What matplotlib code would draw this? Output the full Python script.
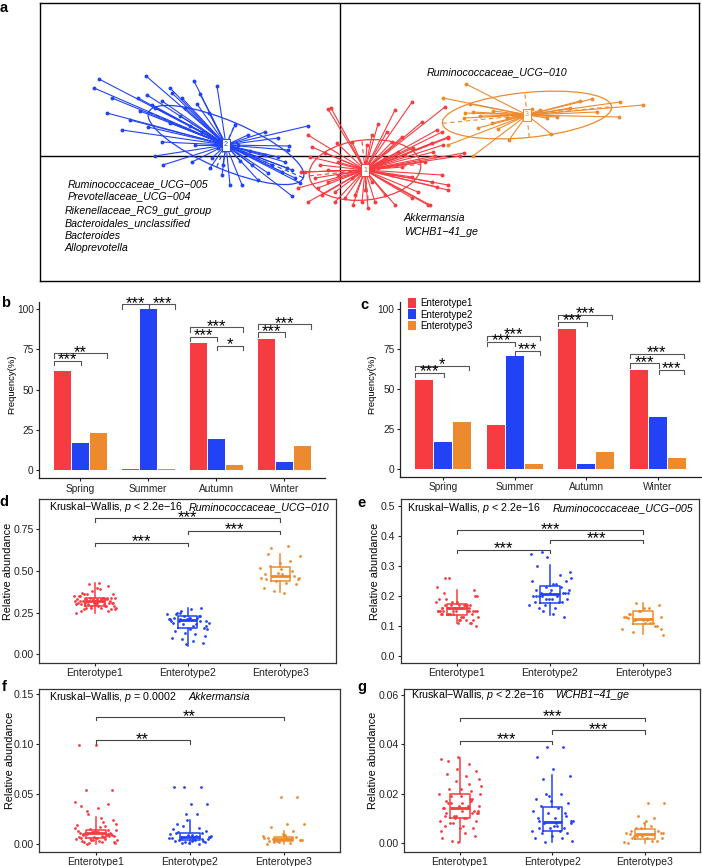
import matplotlib
matplotlib.use("Agg")
import matplotlib.pyplot as plt
import numpy as np
from matplotlib.patches import Ellipse

plt.rcParams['font.family'] = ['Liberation Sans', 'DejaVu Sans']
plt.rcParams['mathtext.fontset'] = 'custom'
plt.rcParams['mathtext.rm'] = 'Liberation Sans'
plt.rcParams['mathtext.it'] = 'Liberation Sans:italic'

RED, BLUE, ORANGE = '#F63C40', '#2243F5', '#EE8A2E'
COLS = [RED, BLUE, ORANGE]
enterotypes = ['Enterotype1', 'Enterotype2', 'Enterotype3']
seasons = ['Spring', 'Summer', 'Autumn', 'Winter']

## ------------------------------ panel a : class ordination -----------------------------------
et1_x = [-12, 72, 55, 38, -32, -3, -28, 82, 102, 108, 92, 120, 95, 73, 85, 62, 72, 92, 108, 88,
         72, 55, 45, 35, 25, 15, 5, -5, -22, -42, -32, -12, -35, -25, -20, -2, -30, -15, 12, 27,
         32, 47, 52, 62, 58, 45, 12, 22, 32, 52, 38, -12, -2, 13, 28, -5, -18, 78, 97, 102,
         65, 25, -39, -9, 90, 108, 124, 105, 97, 108, 103, 93]
et1_y = [47, 54, 46, 32, 21, 13, 9, 34, 24, 18, 13, 0, 0, 8, -6, -11, -21, -26, -34, -49,
         -42, -49, -39, -46, -34, -39, -42, -36, -32, -32, -46, -26, -16, -22, -9, -6, -1, 3, 14, 11,
         21, 24, 14, 19, 4, -2, -22, -46, -26, -19, -12, -14, -19, -49, -52, -46, -39, -36, -31, -19,
         1, -6, -16, 48, -49, -29, 3, 49, 26, 19, 11, 4]
et2_x = [-241, -194, -246, -146, -123, -170, -202, -228, -193, -168, -158, -188, -233, -178, -131,
         -143, -218, -192, -178, -145, -105, -92, -75, -32, -62, -51, -52, -185, -177, -148, -128,
         -118, -110, -98, -82, -72, -48, -55, -53, -45, -40, -62, -68, -88, -122, -75, -102, -138,
         -155, -117, -48, -58, -160, -200, -140, -210, -170, -185, -150, -100, -90, -130]
et2_y = [77, 80, 68, 75, 70, 68, 58, 58, 61, 63, 58, 51, 43, 55, 43, 52, 26, 29, 14, 11, 31, 21,
         24, 30, 18, 10, 6, 0, -9, -6, -2, -19, -29, -29, -24, -17, -40, -6, -12, -22, -27, -1, -9,
         -9, 8, 1, 11, 24, 48, -9, -14, -16, 40, 45, 62, 36, 33, 48, 30, -5, 5, -12]
et3_x = [126, 103, 130, 125, 124, 138, 152, 158, 108, 133, 169, 211, 192, 207, 280, 303, 279, 252,
         240, 230, 217, 257, 133, 140, 167, 182, 153, 200]
et3_y = [72, 58, 52, 43, 38, 28, 33, 27, 11, 0, 16, 22, 47, 38, 54, 51, 39, 57, 55, 48, 39, 44,
         44, 40, 38, 39, 45, 46]
centroid_x = [25, -114, 187]
centroid_y = [-14, 11, 41]
ell_major = [56, 84, 85]
ell_minor = [30, 24, 22.5]
ell_angle = [6, -23, 5.6]

taxa_et2 = ['Ruminococcaceae_UCG\u2212005', 'Prevotellaceae_UCG\u2212004',
            'Rikenellaceae_RC9_gut_group', 'Bacteroidales_unclassified', 'Bacteroides',
            'Alloprevotella']
taxa_et1 = ['Akkermansia', 'WCHB1\u221241_ge']
taxa_et3 = ['Ruminococcaceae_UCG\u2212010']

## ------------------------------ panels b, c : seasonal frequency -----------------------------------
b_et1 = [61.5, 0.8, 78.7, 81.4]
b_et2 = [16.6, 100.0, 19.3, 4.8]
b_et3 = [23.0, 0.8, 3.3, 15.1]
c_et1 = [55.3, 27.4, 87.3, 62.0]
c_et2 = [16.6, 70.7, 3.3, 32.4]
c_et3 = [29.5, 3.3, 10.8, 6.9]
# (season, group i, group j, label)
b_sig = [(0, 1, 2, '***'), (0, 1, 3, '**'), (1, 1, 2, '***'), (1, 2, 3, '***'), (2, 1, 2, '***'),
         (2, 1, 3, '***'), (2, 2, 3, '*'), (3, 1, 2, '***'), (3, 1, 3, '***')]
b_sig_y = [67.9, 72.5, 102.9, 102.9, 82.8, 88.6, 77.2, 85.5, 90.5]
c_sig = [(0, 1, 2, '***'), (0, 1, 3, '*'), (1, 1, 2, '***'), (1, 1, 3, '***'), (1, 2, 3, '***'),
         (2, 1, 2, '***'), (2, 1, 3, '***'), (3, 1, 2, '***'), (3, 1, 3, '***'), (3, 2, 3, '***')]
c_sig_y = [59.9, 64.4, 79.4, 83.2, 74.0, 91.9, 96.5, 66.1, 71.9, 62.0]

## ------------------------------ panels d-g : relative abundance -----------------------------------
d_et1 = [0.32, 0.31, 0.33, 0.30, 0.34, 0.29, 0.35, 0.28, 0.36, 0.27, 0.32, 0.31, 0.33, 0.30, 0.34,
         0.29, 0.37, 0.26, 0.38, 0.25, 0.32, 0.33, 0.31, 0.30, 0.35, 0.29, 0.34, 0.28, 0.39, 0.27,
         0.32, 0.31, 0.33, 0.30, 0.36, 0.29, 0.40, 0.26, 0.41, 0.28, 0.32, 0.33, 0.31, 0.34, 0.30,
         0.35, 0.29, 0.42, 0.27, 0.43, 0.32, 0.31, 0.33, 0.30, 0.34, 0.28, 0.36, 0.31, 0.32, 0.33]
d_et2 = [0.21, 0.20, 0.22, 0.19, 0.23, 0.18, 0.24, 0.17, 0.25, 0.16, 0.21, 0.20, 0.22, 0.26, 0.15,
         0.27, 0.14, 0.28, 0.13, 0.21, 0.12, 0.20, 0.11, 0.22, 0.10, 0.23, 0.09, 0.19, 0.08, 0.24,
         0.07, 0.06, 0.21, 0.18, 0.25, 0.17, 0.15, 0.22, 0.20, 0.23]
d_et3 = [0.47, 0.46, 0.48, 0.45, 0.50, 0.44, 0.52, 0.43, 0.53, 0.42, 0.55, 0.40, 0.56, 0.38, 0.59,
         0.37, 0.60, 0.47, 0.49, 0.46, 0.65, 0.64, 0.45, 0.51, 0.48]
e_et1 = [0.16, 0.15, 0.17, 0.14, 0.16, 0.15, 0.18, 0.13, 0.19, 0.12, 0.16, 0.15, 0.17, 0.14, 0.20,
         0.12, 0.21, 0.11, 0.16, 0.15, 0.17, 0.14, 0.22, 0.11, 0.16, 0.15, 0.18, 0.13, 0.16, 0.17,
         0.14, 0.15, 0.19, 0.12, 0.26, 0.10, 0.16, 0.15, 0.17, 0.14, 0.23, 0.13, 0.16, 0.15, 0.18,
         0.14, 0.16, 0.17, 0.15, 0.13, 0.26, 0.11, 0.16, 0.15, 0.17, 0.14, 0.20, 0.12, 0.16, 0.15]
e_et2 = [0.20, 0.21, 0.19, 0.22, 0.18, 0.23, 0.17, 0.24, 0.16, 0.25, 0.21, 0.20, 0.27, 0.15, 0.28,
         0.14, 0.30, 0.13, 0.33, 0.34, 0.20, 0.21, 0.19, 0.22, 0.18, 0.23, 0.17, 0.26, 0.16, 0.20,
         0.21, 0.19, 0.25, 0.18, 0.345, 0.22, 0.24, 0.20, 0.21, 0.19]
e_et3 = [0.12, 0.13, 0.11, 0.14, 0.10, 0.15, 0.09, 0.16, 0.08, 0.17, 0.12, 0.13, 0.11, 0.175, 0.07,
         0.12, 0.14, 0.10, 0.15, 0.13, 0.11, 0.12, 0.09, 0.16, 0.125]
f_et1 = [0.010, 0.008, 0.012, 0.006, 0.014, 0.004, 0.016, 0.002, 0.011, 0.009, 0.013, 0.007, 0.018,
         0.001, 0.020, 0.003, 0.010, 0.008, 0.012, 0.005, 0.022, 0.000, 0.024, 0.006, 0.011, 0.009,
         0.015, 0.004, 0.026, 0.002, 0.010, 0.007, 0.013, 0.005, 0.030, 0.001, 0.036, 0.003, 0.040,
         0.012, 0.042, 0.008, 0.054, 0.054, 0.099, 0.099, 0.010, 0.006, 0.014, 0.017, 0.009, 0.011,
         0.004, 0.019, 0.007, 0.033, 0.002, 0.012, 0.038, 0.010]
f_et2 = [0.007, 0.005, 0.009, 0.003, 0.011, 0.002, 0.006, 0.008, 0.004, 0.013, 0.001, 0.015, 0.000,
         0.018, 0.007, 0.005, 0.020, 0.003, 0.024, 0.010, 0.030, 0.006, 0.040, 0.040, 0.057, 0.057,
         0.057, 0.008, 0.004, 0.012, 0.002, 0.009, 0.006, 0.016, 0.001, 0.007, 0.003, 0.011, 0.005,
         0.030]
f_et3 = [0.005, 0.004, 0.006, 0.003, 0.007, 0.002, 0.008, 0.001, 0.005, 0.004, 0.010, 0.000, 0.013,
         0.003, 0.020, 0.020, 0.017, 0.047, 0.047, 0.006, 0.005, 0.002, 0.004, 0.009, 0.006]
g_et1 = [0.014, 0.013, 0.016, 0.012, 0.018, 0.011, 0.020, 0.010, 0.022, 0.009, 0.015, 0.014, 0.024,
         0.008, 0.026, 0.007, 0.028, 0.006, 0.030, 0.005, 0.014, 0.016, 0.012, 0.019, 0.011, 0.021,
         0.010, 0.023, 0.004, 0.033, 0.003, 0.035, 0.002, 0.032, 0.001, 0.015, 0.013, 0.017, 0.012,
         0.025, 0.009, 0.027, 0.008, 0.029, 0.006, 0.014, 0.018, 0.011, 0.020, 0.010, 0.016, 0.013,
         0.0005, 0.034, 0.015, 0.019, 0.012, 0.022, 0.007, 0.017]
g_et2 = [0.008, 0.009, 0.007, 0.010, 0.006, 0.012, 0.005, 0.014, 0.004, 0.016, 0.003, 0.018, 0.002,
         0.020, 0.001, 0.008, 0.009, 0.011, 0.006, 0.013, 0.005, 0.026, 0.027, 0.030, 0.035, 0.039,
         0.039, 0.009, 0.007, 0.015, 0.004, 0.017, 0.002, 0.020, 0.0005, 0.008, 0.010, 0.006, 0.012,
         0.019]
g_et3 = [0.003, 0.004, 0.002, 0.005, 0.001, 0.006, 0.0005, 0.007, 0.003, 0.004, 0.008, 0.000, 0.010,
         0.011, 0.016, 0.016, 0.002, 0.005, 0.003, 0.004, 0.001, 0.006, 0.002, 0.009, 0.0035]

# box statistics (q1, median, q3, lower whisker, upper whisker) per enterotype
d_q1, d_med, d_q3 = [0.29, 0.156, 0.442], [0.32, 0.206, 0.472], [0.336, 0.23, 0.522]
d_lo, d_hi = [0.25, 0.05, 0.372], [0.426, 0.28, 0.60]
e_q1, e_med, e_q3 = [0.136, 0.177, 0.105], [0.158, 0.205, 0.122], [0.173, 0.233, 0.149]
e_lo, e_hi = [0.11, 0.136, 0.072], [0.22, 0.303, 0.177]
f_q1, f_med, f_q3 = [0.006, 0.0037, 0.0027], [0.0104, 0.007, 0.0047], [0.0137, 0.0104, 0.007]
f_lo, f_hi = [0.0, 0.0, 0.0], [0.027, 0.024, 0.013]
g_q1, g_med, g_q3 = [0.010, 0.005, 0.0015], [0.0143, 0.0085, 0.0035], [0.020, 0.0147, 0.0055]
g_lo, g_hi = [0.0005, 0.0005, 0.0], [0.0345, 0.0274, 0.0082]

d_sig = [(1, 3, '***'), (2, 3, '***'), (1, 2, '***')]
d_sig_y = [0.816, 0.742, 0.670]
e_sig = [(1, 3, '***'), (2, 3, '***'), (1, 2, '***')]
e_sig_y = [0.418, 0.386, 0.353]
f_sig = [(1, 3, '**'), (1, 2, '**')]
f_sig_y = [0.127, 0.1038]
g_sig = [(1, 3, '***'), (2, 3, '***'), (1, 2, '***')]
g_sig_y = [0.0506, 0.0456, 0.0413]

W, H = 702, 866
fig = plt.figure(figsize=(W / 100, H / 100), dpi=100)


def px_axes(x0, y0, x1, y1):
    ''' add axes from pixel box (left, top, right, bottom) '''
    return fig.add_axes([x0 / W, 1 - y1 / H, (x1 - x0) / W, (y1 - y0) / H])


def bracket(ax, x1, x2, y, drop, label, color='#444444'):
    ax.plot([x1, x1, x2, x2], [y - drop, y, y, y - drop], color=color, lw=0.8, clip_on=False)
    ax.annotate(label, xy=((x1 + x2) / 2, y), xytext=(0, -2.5), textcoords='offset points',
                ha='center', va='baseline', fontsize=12, annotation_clip=False)


## ---- a
ax = px_axes(39.6, 3.3, 699, 280.7)
ax.set_xlim(-300.4, 359)
ax.set_ylim(-124.7, 152.7)
ax.set_xticks([])
ax.set_yticks([])
for s in ax.spines.values():
    s.set_linewidth(1.0)
ax.axhline(0, color='black', lw=1.0, zorder=1)
ax.axvline(0, color='black', lw=1.0, zorder=1)
groups = [(et2_x, et2_y, 1), (et3_x, et3_y, 2), (et1_x, et1_y, 0)]
for gx, gy, k in groups:
    cx, cy = centroid_x[k], centroid_y[k]
    col = COLS[k]
    for px, py in zip(gx, gy):
        ax.plot([cx, px], [cy, py], color=col, lw=0.8, zorder=2)
    ax.plot(gx, gy, 'o', color=col, ms=2.8, mew=0, zorder=3)
    ax.add_patch(Ellipse((cx, cy), 2 * ell_major[k], 2 * ell_minor[k], angle=ell_angle[k],
                         fill=False, ec=col, lw=0.9, zorder=3))
    th = np.deg2rad(ell_angle[k])
    ua = np.array([np.cos(th), np.sin(th)]) * ell_major[k]
    ub = np.array([-np.sin(th), np.cos(th)]) * ell_minor[k]
    for u in (ua, ub):
        ax.plot([cx - u[0], cx + u[0]], [cy - u[1], cy + u[1]], color=col, lw=0.8, ls=(0, (4, 3)),
                zorder=3)
    ax.text(cx, cy, str(k + 1), fontsize=5, color=col, ha='center', va='center', zorder=5,
            bbox=dict(boxstyle='square,pad=0.3', fc='white', ec=col, lw=0.7))

ax.text(87, 84, taxa_et3[0], fontsize=7.7, style='italic', va='center')
ax.text(-272, -28.5, taxa_et2[0], fontsize=7.7, style='italic', va='center')
ax.text(-272, -40.5, taxa_et2[1], fontsize=7.7, style='italic', va='center')
for i, t in enumerate(taxa_et2[2:]):
    ax.text(-275.5, -54.7 - 12.5 * i, t, fontsize=7.7, style='italic', va='center')
for i, t in enumerate(taxa_et1):
    ax.text(64, -61.7 - 14.6 * i, t, fontsize=7.7, style='italic', va='center')


## ---- b, c
def freq_panel(ax, vals, sig, sig_y, end_off, legend=False):
    x = np.arange(1, 5)
    for k, v in enumerate(vals):
        ax.bar(x + (k - 1) * 0.265, v, width=0.25, color=COLS[k], label=enterotypes[k], zorder=2)
    ax.set_xlim(0.4, 4.6)
    ax.set_ylim(-4.9, 104.6)
    ax.set_yticks([0, 25, 50, 75, 100])
    ax.set_xticks(x)
    ax.set_xticklabels(seasons)
    for s in ['top', 'right']:
        ax.spines[s].set_visible(False)
    for s in ['left', 'bottom']:
        ax.spines[s].set_linewidth(0.9)
        ax.spines[s].set_color('#222222')
    ax.tick_params(length=2.5, width=0.8, labelsize=7.3, pad=1.5, colors='#222222')
    ax.set_ylabel('Frequency(%)', fontsize=6.8)
    ends = {1: -0.39, 2: 0.01, 3: end_off}
    for (si, i, j, lab), yy in zip(sig, sig_y):
        bracket(ax, si + 1 + ends[i], si + 1 + ends[j], yy, 2.7, lab, color='#555555')
    if legend:
        ax.legend(loc='upper left', bbox_to_anchor=(0.025, 1.02), frameon=False, fontsize=7,
                  handlelength=0.85, handleheight=1.15, labelspacing=0.12, handletextpad=0.5,
                  borderpad=0, borderaxespad=0)


axb = px_axes(39.3, 301.7, 325, 478)
freq_panel(axb, [b_et1, b_et2, b_et3], b_sig, b_sig_y, 0.40)
axb.yaxis.set_label_coords(-0.08, 0.53)
axc = px_axes(400, 301.7, 701, 476.7)
freq_panel(axc, [c_et1, c_et2, c_et3], c_sig, c_sig_y, 0.36, legend=True)
axc.yaxis.set_label_coords(-0.078, 0.53)


## ---- d-g
def abundance_panel(ax, groups, q1, med, q3, lo, hi, ylim, yticks, ylabels, sig, sig_y, drop,
                    species, title_x, species_x, title_y, kw_p):
    stats = []
    for k in range(3):
        stats.append(dict(med=med[k], q1=q1[k], q3=q3[k], whislo=lo[k], whishi=hi[k], fliers=[]))
    for k, vals in enumerate(groups):
        n = len(vals)
        offs = ((np.arange(n) * 0.6180339887 + 0.31) % 1 - 0.5) * 0.46
        ax.scatter(k + 1 + offs, vals, s=4, color=COLS[k], linewidths=0, zorder=2)
        ax.bxp([stats[k]], positions=[k + 1], widths=0.21, showcaps=False, showfliers=False,
               boxprops=dict(color=COLS[k], lw=1.1), whiskerprops=dict(color=COLS[k], lw=1.1),
               medianprops=dict(color=COLS[k], lw=2.0), manage_ticks=False, zorder=3)
    ax.set_xlim(0.4, 3.6)
    ax.set_ylim(*ylim)
    ax.set_xticks([1, 2, 3])
    ax.set_xticklabels(enterotypes)
    ax.set_yticks(yticks)
    ax.set_yticklabels(ylabels)
    for s in ax.spines.values():
        s.set_linewidth(0.9)
        s.set_color('#333333')
    ax.tick_params(length=2.5, width=0.8, labelsize=7.6, pad=1.5, colors='#222222')
    ax.set_ylabel('Relative abundance', fontsize=7.8)
    for (i, j, lab), yy in zip(sig, sig_y):
        bracket(ax, i, j, yy, drop, lab)
    ax.text(title_x, title_y, 'Kruskal\u2212Wallis, $\\mathit{p}$ ' + kw_p, transform=ax.transAxes,
            fontsize=7.7, va='center')
    ax.text(species_x, title_y, species, transform=ax.transAxes, fontsize=7.7, va='center',
            style='italic')


axd = px_axes(39.3, 499.3, 336, 662.7)
abundance_panel(axd, [d_et1, d_et2, d_et3], d_q1, d_med, d_q3, d_lo, d_hi, (-0.05, 0.93),
                [0, 0.25, 0.5, 0.75], ['0.00', '0.25', '0.50', '0.75'], d_sig, d_sig_y, 0.02,
                'Ruminococcaceae_UCG\u2212010', 0.034, 0.505, 0.953, '< 2.2e\u221216')
axd.yaxis.set_label_coords(-0.090, 0.56)
axe = px_axes(401, 499.3, 699, 662.7)
abundance_panel(axe, [e_et1, e_et2, e_et3], e_q1, e_med, e_q3, e_lo, e_hi, (-0.0234, 0.522),
                [0, 0.1, 0.2, 0.3, 0.4, 0.5], ['0.0', '0.1', '0.2', '0.3', '0.4', '0.5'],
                e_sig, e_sig_y, 0.011, 'Ruminococcaceae_UCG\u2212005', 0.02, 0.509, 0.947,
                '< 2.2e\u221216')
axe.yaxis.set_label_coords(-0.07, 0.56)
axf = px_axes(39.3, 689.3, 340, 851.7)
abundance_panel(axf, [f_et1, f_et2, f_et3], f_q1, f_med, f_q3, f_lo, f_hi, (-0.008, 0.155),
                [0, 0.05, 0.1, 0.15], ['0.00', '0.05', '0.10', '0.15'], f_sig, f_sig_y, 0.0033,
                'Akkermansia', 0.033, 0.496, 0.952, '= 0.0002')
axf.yaxis.set_label_coords(-0.082, 0.56)
axg = px_axes(404.3, 689.3, 700.3, 851.7)
abundance_panel(axg, [g_et1, g_et2, g_et3], g_q1, g_med, g_q3, g_lo, g_hi, (-0.0035, 0.0622),
                [0, 0.02, 0.04, 0.06], ['0.00', '0.02', '0.04', '0.06'], g_sig, g_sig_y, 0.0013,
                'WCHB1\u221241_ge', 0.023, 0.509, 0.962, '< 2.2e\u221216')
axg.yaxis.set_label_coords(-0.089, 0.56)

# panel letters
for lab, x, y in [('a', 4, 8), ('b', 6, 303), ('c', 364, 305), ('d', 4, 502), ('e', 362, 503),
                  ('f', 4, 687), ('g', 362, 687)]:
    fig.text(x / W, 1 - y / H, lab, fontsize=10.5, fontweight='bold', ha='center', va='center')

fig.savefig('out.png', dpi=100)
